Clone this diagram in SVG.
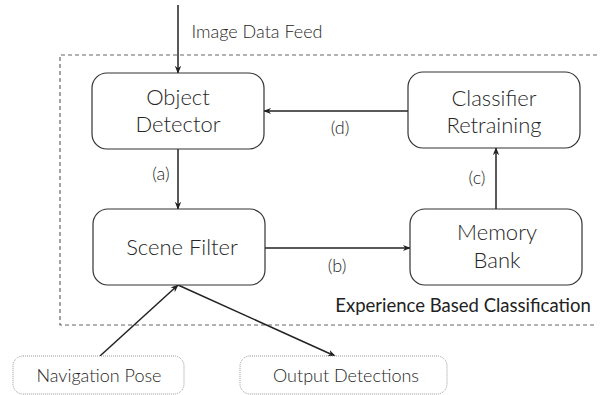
<svg xmlns="http://www.w3.org/2000/svg" width="600" height="395" viewBox="0 0 600 395">
  <defs>
    <marker id="arrow" viewBox="0 0 10 10" refX="9" refY="5" markerWidth="8" markerHeight="8" markerUnits="userSpaceOnUse" orient="auto">
      <path d="M0,1 L10,5 L0,9 L3,5 Z" fill="#222"/>
    </marker>
    <style>
      .node { fill: #fff; stroke: #333; stroke-width: 1.2; }
      .io { fill: #fff; stroke: #999; stroke-width: 1; stroke-dasharray: 1 1; }
      .label { font-family: Lato, "Liberation Sans", sans-serif; font-weight: 300; fill: #262626; text-anchor: middle; }
      .big { font-size: 22px; }
      .small { font-size: 18px; }
      .edge { stroke: #222; stroke-width: 1.5; fill: none; marker-end: url(#arrow); }
      .frame { fill: none; stroke: #666; stroke-width: 1.2; stroke-dasharray: 4 3; }
    </style>
  </defs>

  <rect width="600" height="395" fill="#fff"/>

  <!-- experience based classification frame -->
  <g id="frame">
    <path class="frame" d="M597,55 H60 V325 H597"/>
    <text x="463" y="312" style="font-family: Lato, 'Liberation Sans', sans-serif; font-size: 18.5px; fill: #222; text-anchor: middle;">Experience Based Classification</text>
  </g>

  <g id="connectors">
    <line class="edge" x1="178" y1="5" x2="178" y2="73"/>
    <line class="edge" x1="178" y1="149" x2="178" y2="209"/>
    <line class="edge" x1="408" y1="111" x2="264" y2="111"/>
    <line class="edge" x1="496" y1="209" x2="496" y2="148"/>
    <line class="edge" x1="265" y1="248" x2="410" y2="248"/>
    <line class="edge" x1="100" y1="356" x2="178" y2="285"/>
    <line class="edge" x1="178" y1="285" x2="335" y2="356"/>
    <text class="label small" x="257" y="38">Image Data Feed</text>
    <text class="label small" x="161" y="180">(a)</text>
    <text class="label small" x="337" y="272">(b)</text>
    <text class="label small" x="477" y="184">(c)</text>
    <text class="label small" x="340" y="134">(d)</text>
  </g>

  <g id="object-detector">
    <rect class="node" x="92" y="73" width="172" height="76" rx="15"/>
    <text class="label big" x="178" y="105">Object</text>
    <text class="label big" x="178" y="132">Detector</text>
  </g>

  <g id="classifier-retraining">
    <rect class="node" x="408" y="72" width="172" height="76" rx="15"/>
    <text class="label big" x="494" y="106">Classifier</text>
    <text class="label big" x="494" y="133">Retraining</text>
  </g>

  <g id="scene-filter">
    <rect class="node" x="93" y="209" width="172" height="76" rx="15"/>
    <text class="label big" x="182" y="255">Scene Filter</text>
  </g>

  <g id="memory-bank">
    <rect class="node" x="410" y="209" width="172" height="76" rx="15"/>
    <text class="label big" x="497" y="240">Memory</text>
    <text class="label big" x="497" y="268">Bank</text>
  </g>

  <g id="navigation-pose">
    <rect class="io" x="13" y="356" width="171" height="38" rx="10"/>
    <text class="label small" x="99" y="382">Navigation Pose</text>
  </g>

  <g id="output-detections">
    <rect class="io" x="240" y="356" width="207" height="38" rx="10"/>
    <text class="label small" x="346" y="382">Output Detections</text>
  </g>
</svg>
